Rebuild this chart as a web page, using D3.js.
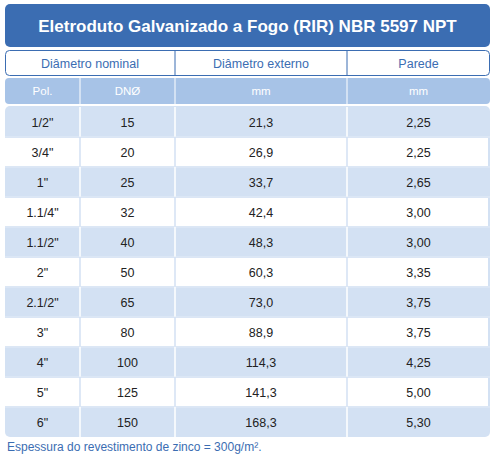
<!DOCTYPE html><html><head><meta charset="utf-8"><script src="https://cdn.jsdelivr.net/npm/d3@7"></script>
<style>body{margin:0;background:#fff}svg{font-family:Arial,"Liberation Sans",sans-serif}</style></head><body><svg id="c" width="500" height="463"></svg><script>
const title="Eletroduto Galvanizado a Fogo (RIR) NBR 5597 NPT";
const groupHeaders=["Diâmetro nominal","Diâmetro externo","Parede"];
const unitHeaders=["Pol.","DNØ","mm","mm"];
const pol=['1/2"','3/4"','1"','1.1/4"','1.1/2"','2"','2.1/2"','3"','4"','5"','6"'];
const dn=[15,20,25,32,40,50,65,80,100,125,150];
const ext=["21,3","26,9","33,7","42,4","48,3","60,3","73,0","88,9","114,3","141,3","168,3"];
const wall=["2,25","2,25","2,65","3,00","3,00","3,35","3,75","3,75","4,25","5,00","5,30"];
const note="Espessura do revestimento de zinco = 300g/m².";
const svg=d3.select("#c");
const L=5,R=490,cols=[5,80,175,347,490];
const blue="#3b6db2",light="#d3e1f3",sub="#a7c3e7",txt="#222";
svg.append("rect").attr("x",L).attr("y",4).attr("width",R-L).attr("height",43).attr("rx",5).attr("fill",blue);
svg.append("text").attr("x",(L+R)/2).attr("y",32).attr("text-anchor","middle").attr("fill","#fff").attr("font-size",17).attr("font-weight","bold").text(title);
// group header
svg.append("rect").attr("x",L+0.5).attr("y",50.5).attr("width",R-L-1).attr("height",25).attr("rx",4).attr("fill","#fff").attr("stroke",blue);
[[cols[0],cols[2]],[cols[2],cols[3]],[cols[3],cols[4]]].forEach((c,i)=>{
 if(i>0)svg.append("line").attr("x1",c[0]).attr("x2",c[0]).attr("y1",51).attr("y2",76).attr("stroke",blue);
 svg.append("text").attr("x",(c[0]+c[1])/2).attr("y",68).attr("text-anchor","middle").attr("fill",blue).attr("font-size",12.5).text(groupHeaders[i]);
});
svg.append("rect").attr("x",L).attr("y",78).attr("width",R-L).attr("height",26).attr("rx",4).attr("fill",sub);
unitHeaders.forEach((t,i)=>{
 if(i>0)svg.append("line").attr("x1",cols[i]).attr("x2",cols[i]).attr("y1",78).attr("y2",104).attr("stroke","#fff");
 svg.append("text").attr("x",(cols[i]+cols[i+1])/2).attr("y",95).attr("text-anchor","middle").attr("fill","#fff").attr("font-size",11.5).text(t);
});
const y=d3.scaleBand().domain(d3.range(pol.length)).range([107,437]);
svg.append("rect").attr("x",L).attr("y",106).attr("width",R-L).attr("height",331).attr("rx",5).attr("fill",light);
const rows=d3.range(pol.length).map(i=>[pol[i],dn[i],ext[i],wall[i]]);
rows.forEach((r,i)=>{
 const yy=y(i),h=y.bandwidth();
 if(i%2==1)svg.append("rect").attr("x",L).attr("y",yy+1).attr("width",R-L-2).attr("height",h-2).attr("fill","#fff");
 if(i>0)svg.append("line").attr("x1",L).attr("x2",R).attr("y1",yy).attr("y2",yy).attr("stroke","#e4ecf7");
 r.forEach((v,j)=>{
  if(j>0)svg.append("line").attr("x1",cols[j]).attr("x2",cols[j]).attr("y1",yy).attr("y2",yy+h).attr("stroke",i%2?light:"#fff").attr("stroke-width",1.5);
  svg.append("text").attr("x",(cols[j]+cols[j+1])/2).attr("y",yy+h/2+4.5).attr("text-anchor","middle").attr("fill",txt).attr("font-size",12.5).text(v);
 });
});
svg.append("text").attr("x",7).attr("y",451).attr("fill",blue).attr("font-size",12).text(note);
</script></body></html>
